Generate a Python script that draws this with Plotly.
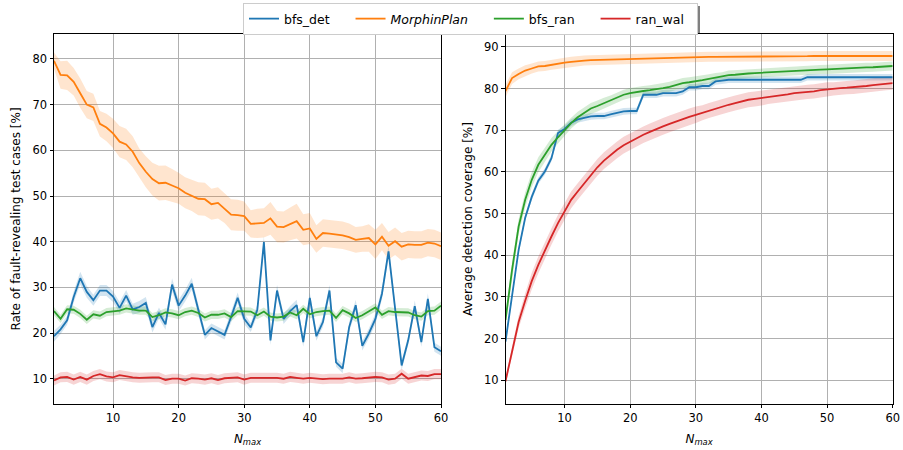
import plotly.graph_objects as go

n_max = list(range(1, 61))

# ---- left panel: rate of fault-revealing test cases [%]
rate_bfs_det = [19.3, 20.8, 22.8, 27.9, 32.0, 29.0, 27.2, 29.3, 29.3, 28.0,
                25.5, 28.2, 25.2, 25.7, 26.6, 21.3, 24.4, 21.9, 30.6, 26.0,
                28.2, 30.8, 25.1, 19.6, 21.1, 20.4, 19.6, 23.5, 27.7, 23.1,
                21.2, 25.1, 39.9, 18.4, 29.3, 23.1, 24.8, 26.1, 18.0, 27.7,
                19.3, 22.4, 29.3, 13.6, 12.2, 21.3, 26.1, 17.2, 19.9, 23.1,
                28.6, 37.9, 25.0, 12.9, 18.4, 25.9, 18.0, 27.5, 16.9, 16.0]
rate_morphin = [79.6, 76.5, 76.4, 75.0, 72.5, 70.0, 69.4, 65.8, 65.0, 63.7,
                61.9, 61.3, 59.7, 57.2, 55.3, 53.7, 52.8, 52.9, 52.3, 51.7,
                50.7, 50.1, 49.4, 49.3, 48.2, 48.5, 47.3, 45.9, 45.8, 45.6,
                43.9, 44.0, 44.1, 45.1, 43.3, 43.2, 43.9, 44.5, 42.6, 42.9,
                40.6, 41.9, 41.75, 41.6, 41.4, 41.0, 40.4, 40.6, 40.8, 39.4,
                41.1, 39.1, 40.1, 38.9, 39.4, 39.3, 39.3, 39.8, 39.6, 39.0]
rate_bfs_ran = [24.8, 23.1, 25.2, 25.1, 24.2, 22.9, 24.1, 23.8, 24.6, 24.8,
                24.9, 25.4, 25.1, 24.9, 24.9, 23.5, 23.9, 24.5, 24.3, 23.9,
                24.6, 24.9, 24.4, 23.4, 24.0, 24.0, 24.3, 23.5, 24.8, 24.7,
                24.7, 23.9, 24.7, 23.6, 23.4, 23.6, 24.5, 23.9, 25.3, 24.1,
                24.6, 24.8, 24.9, 23.3, 25.0, 24.3, 23.3, 23.9, 24.7, 25.6,
                24.0, 24.8, 24.6, 24.5, 24.5, 23.9, 23.6, 24.8, 24.9, 26.0]
rate_ran_wal = [9.6, 10.3, 10.4, 9.8, 10.4, 9.8, 10.6, 11.0, 10.5, 10.3,
                10.8, 10.5, 10.3, 10.2, 10.3, 10.3, 10.3, 9.7, 10.0, 10.0,
                9.6, 10.1, 10.0, 9.8, 10.1, 9.7, 10.1, 10.2, 10.3, 9.8,
                10.2, 10.2, 10.2, 10.1, 10.2, 10.0, 10.4, 10.2, 10.0, 10.2,
                10.1, 9.9, 10.0, 10.0, 10.0, 10.3, 10.0, 10.1, 10.2, 10.4,
                10.3, 9.8, 10.0, 11.1, 10.0, 10.4, 10.7, 10.6, 11.0, 11.0]

# band half-widths (left panel), read from the shaded areas
rate_band_bfs_det = [1.2, 1.0, 1.0, 1.2, 1.4, 1.3, 1.2, 1.2, 1.2, 1.2,
                     1.3, 1.2, 1.2, 1.3, 1.3, 1.2, 1.2, 1.2, 1.4, 1.3,
                     1.3, 1.3, 1.2, 1.0, 1.0, 1.0, 1.0, 1.2, 1.2, 1.2,
                     1.0, 1.2, 1.3, 1.0, 1.2, 1.1, 1.1, 1.2, 1.0, 1.2,
                     1.0, 1.1, 1.2, 1.0, 1.0, 1.1, 1.2, 1.0, 1.1, 1.2,
                     1.2, 1.3, 1.2, 1.0, 1.0, 1.2, 1.0, 1.2, 1.0, 1.0]
rate_band_morphin = [1.8, 3.0, 3.2, 3.0, 3.2, 3.0, 3.0, 2.8, 3.0, 3.2,
                     3.4, 3.4, 3.4, 3.2, 3.4, 3.6, 3.8, 3.8, 3.6, 3.4,
                     3.4, 3.4, 3.6, 3.6, 3.4, 3.4, 3.2, 3.4, 3.4, 3.2,
                     3.0, 3.2, 3.2, 3.6, 3.4, 3.4, 3.6, 3.8, 3.4, 3.4,
                     3.0, 3.0, 3.0, 3.0, 3.0, 3.0, 2.8, 2.8, 3.0, 3.2,
                     3.0, 3.0, 3.0, 3.0, 3.0, 3.0, 3.0, 3.0, 3.0, 3.0]
rate_band_bfs_ran = [0.9] * 60
rate_band_ran_wal = [1.1] * 60

# ---- right panel: average detection coverage [%]
cov_bfs_det = [19.3, 30.9, 41.3, 49.0, 54.0, 57.9, 60.1, 63.3, 69.3, 70.3,
               71.8, 72.6, 73.0, 73.3, 73.4, 73.4, 73.8, 74.2, 74.5, 74.6,
               74.6, 78.5, 78.5, 78.5, 78.9, 78.9, 78.9, 79.3, 80.3, 80.3,
               80.6, 80.6, 81.7, 81.9, 82.1, 82.1, 82.1, 82.1, 82.1, 82.1,
               82.1, 82.1, 82.1, 82.1, 82.1, 82.1, 82.7, 82.7, 82.7, 82.7,
               82.7, 82.7, 82.7, 82.7, 82.7, 82.7, 82.7, 82.7, 82.7, 82.7]
cov_morphin = [79.4, 82.5, 83.5, 84.3, 84.8, 85.3, 85.4, 85.7, 85.9, 86.2,
               86.4, 86.6, 86.7, 86.8, 86.85, 86.9, 86.9, 86.95, 87.0, 87.0,
               87.1, 87.15, 87.2, 87.3, 87.4, 87.4, 87.45, 87.5, 87.5, 87.5,
               87.55, 87.6, 87.6, 87.6, 87.6, 87.65, 87.65, 87.7, 87.7, 87.7,
               87.7, 87.7, 87.7, 87.7, 87.75, 87.75, 87.75, 87.8, 87.8, 87.8,
               87.8, 87.8, 87.8, 87.8, 87.8, 87.8, 87.8, 87.8, 87.8, 87.8]
cov_bfs_ran = [24.5, 36.5, 46.9, 53.3, 58.1, 61.7, 64.1, 66.5, 68.3, 70.1,
               71.7, 73.1, 74.2, 75.2, 75.8, 76.5, 77.1, 77.9, 78.5, 78.9,
               79.2, 79.4, 79.6, 79.8, 80.1, 80.4, 80.8, 81.3, 81.5, 81.7,
               82.0, 82.3, 82.6, 82.8, 83.2, 83.3, 83.5, 83.6, 83.7, 83.8,
               83.9, 83.95, 84.0, 84.1, 84.3, 84.4, 84.45, 84.5, 84.55, 84.6,
               84.7, 84.75, 84.8, 84.9, 85.0, 85.05, 85.1, 85.2, 85.3, 85.4]
cov_ran_wal = [9.8, 17.3, 24.0, 29.1, 33.8, 37.7, 41.3, 44.5, 47.7, 50.5,
               53.3, 55.3, 57.3, 59.3, 61.1, 62.7, 64.1, 65.3, 66.4, 67.3,
               68.1, 68.9, 69.6, 70.3, 70.9, 71.5, 72.1, 72.6, 73.2, 73.7,
               74.2, 74.7, 75.2, 75.6, 76.1, 76.5, 76.9, 77.3, 77.5, 77.7,
               78.0, 78.2, 78.4, 78.6, 78.9, 79.0, 79.2, 79.3, 79.6, 79.8,
               79.9, 80.1, 80.2, 80.3, 80.5, 80.6, 80.8, 81.0, 81.2, 81.3]

cov_band_bfs_det = [0.8] * 60
cov_band_morphin = [1.5, 1.4, 1.3, 1.3] + [1.2] * 56
cov_band_bfs_ran = [1.5, 1.8, 1.8, 1.8, 1.8, 1.8, 1.7, 1.6, 1.5, 1.4,
                    1.3, 1.3, 1.3, 1.3, 1.3, 1.3, 1.2, 1.2, 1.2, 1.2,
                    1.2, 1.2, 1.2, 1.2, 1.2, 1.2, 1.2, 1.2, 1.2, 1.2,
                    1.1, 1.1, 1.1, 1.1, 1.1, 1.1, 1.1, 1.1, 1.1, 1.1,
                    1.1, 1.1, 1.1, 1.1, 1.1, 1.1, 1.1, 1.1, 1.1, 1.1,
                    1.1, 1.1, 1.1, 1.1, 1.1, 1.1, 1.1, 1.1, 1.1, 1.1]
cov_band_ran_wal = [0.8, 1.2, 1.5, 1.8, 2.0, 2.0, 2.0, 2.0, 2.0, 2.0,
                    2.0, 2.0, 2.0, 2.0, 2.0, 2.0, 2.0, 2.0, 2.0, 2.0,
                    2.0, 2.0, 2.0, 2.0, 2.0, 2.0, 2.0, 2.0, 2.0, 2.0,
                    1.8, 1.8, 1.8, 1.8, 1.8, 1.8, 1.8, 1.8, 1.8, 1.8,
                    1.7, 1.7, 1.7, 1.7, 1.7, 1.7, 1.7, 1.7, 1.7, 1.7,
                    1.6, 1.6, 1.6, 1.6, 1.6, 1.6, 1.6, 1.6, 1.6, 1.6]

series_names = ["bfs_det", "<i>MorphinPlan</i>", "bfs_ran", "ran_wal"]
colors = ["#1f77b4", "#ff7f0e", "#2ca02c", "#d62728"]
fills = ["rgba(31,119,180,0.2)", "rgba(255,127,14,0.2)",
         "rgba(44,160,44,0.2)", "rgba(214,39,40,0.2)"]

left_data = [(rate_bfs_det, rate_band_bfs_det), (rate_morphin, rate_band_morphin),
             (rate_bfs_ran, rate_band_bfs_ran), (rate_ran_wal, rate_band_ran_wal)]
right_data = [(cov_bfs_det, cov_band_bfs_det), (cov_morphin, cov_band_morphin),
              (cov_bfs_ran, cov_band_bfs_ran), (cov_ran_wal, cov_band_ran_wal)]

fig = go.Figure()

PAD = "&nbsp;&nbsp;&nbsp;&nbsp;"
PAD_LAST = "&nbsp;&nbsp;"


def add_panel(data, xa, ya, show_legend):
    for (vals, band), fc in zip(data, fills):
        lo = [v - b for v, b in zip(vals, band)]
        hi = [v + b for v, b in zip(vals, band)]
        fig.add_trace(go.Scatter(x=n_max, y=lo, mode="lines", line=dict(width=0),
                                 showlegend=False, hoverinfo="skip", xaxis=xa, yaxis=ya))
        fig.add_trace(go.Scatter(x=n_max, y=hi, mode="lines", line=dict(width=0),
                                 fill="tonexty", fillcolor=fc,
                                 showlegend=False, hoverinfo="skip", xaxis=xa, yaxis=ya))
    for i, ((vals, band), name, c) in enumerate(zip(data, series_names, colors)):
        label = name + (PAD if i < 3 else PAD_LAST)
        fig.add_trace(go.Scatter(x=n_max, y=vals, mode="lines", name=label,
                                 line=dict(color=c, width=1.8),
                                 showlegend=show_legend, xaxis=xa, yaxis=ya))


add_panel(left_data, "x", "y", True)
add_panel(right_data, "x2", "y2", False)

W, H = 903, 450
font = "DejaVu Sans, sans-serif"
axis_common = dict(showline=True, linecolor="black", linewidth=1, mirror=True,
                   ticks="outside", ticklen=3.5, tickcolor="black", tickwidth=0.8,
                   showgrid=True, gridcolor="#b0b0b0", gridwidth=0.8,
                   zeroline=False, automargin=False,
                   tickfont=dict(family=font, size=11.5, color="black"))

xlabel = "<i>N</i><sub><i>max</i></sub>"

fig.update_layout(
    width=W, height=H,
    margin=dict(l=0, r=0, t=0, b=0, autoexpand=False),
    plot_bgcolor="white", paper_bgcolor="white",
    font=dict(family=font, color="black"),
    xaxis=dict(domain=[54 / W, 441 / W], range=[1, 60], tick0=0, dtick=10,
               title=dict(text=xlabel, font=dict(size=12), standoff=10), **axis_common),
    yaxis=dict(domain=[1 - 403.7 / H, 1 - 34.3 / H], range=[4.53, 85.4], tick0=0, dtick=10,
               title=dict(text="Rate of fault-revealing test cases [%]", font=dict(size=12),
                          standoff=9), **axis_common),
    xaxis2=dict(domain=[505.5 / W, 892.7 / W], range=[1, 60], tick0=0, dtick=10,
                anchor="y2",
                title=dict(text=xlabel, font=dict(size=12), standoff=10), **axis_common),
    yaxis2=dict(domain=[1 - 403.7 / H, 1 - 34.3 / H], range=[4.4, 93], tick0=0, dtick=10,
                anchor="x2",
                title=dict(text="Average detection coverage [%]", font=dict(size=12),
                           standoff=8), **axis_common),
    legend=dict(orientation="h", x=470.5 / W, xanchor="center", y=1 - 3 / H, yanchor="top",
                traceorder="normal",
                bgcolor="white", bordercolor="#cccccc", borderwidth=1,
                font=dict(family=font, size=12.5, color="black"),
                itemwidth=30, tracegroupgap=0),
)

# legend shadow
fig.add_shape(type="rect", xref="paper", yref="paper",
              x0=247 / W, x1=700 / W, y0=1 - 33 / H, y1=1 - 6 / H,
              fillcolor="#808080", line=dict(width=0), layer="below")

fig.write_html("out.html", config={"displayModeBar": False},
               post_script="document.body.style.margin='0px';")
